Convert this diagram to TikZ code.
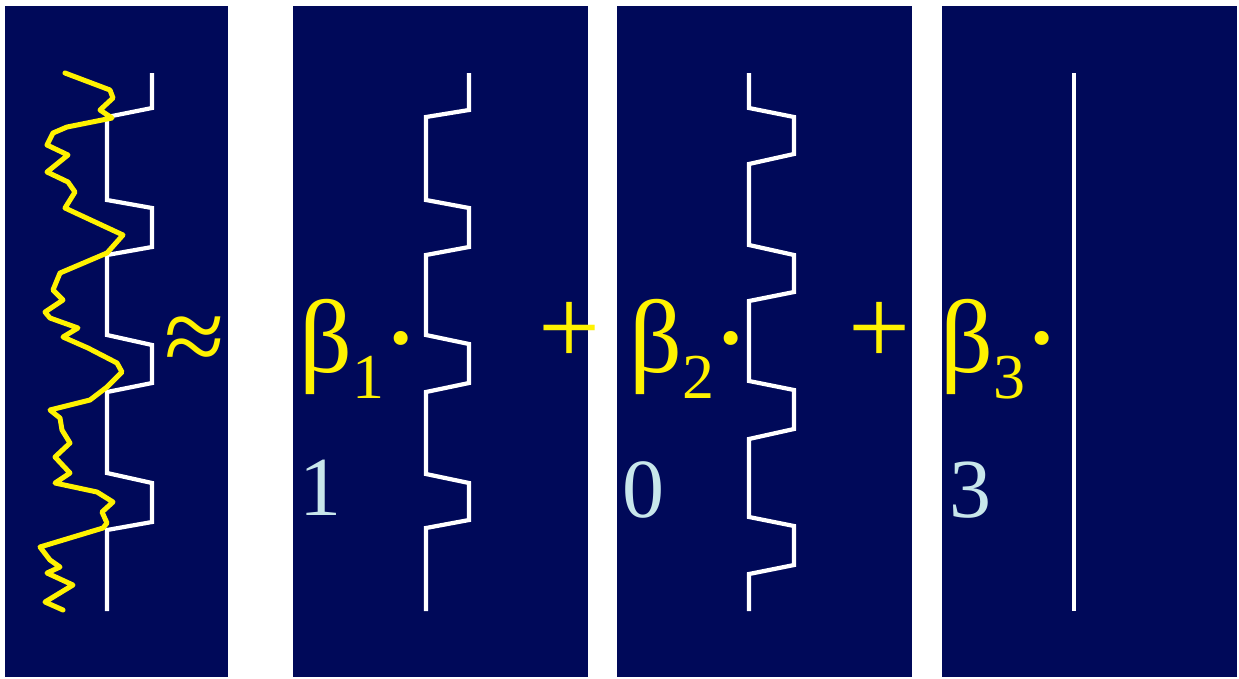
\documentclass[tikz,border=0pt]{standalone}
\usepackage{fontspec}
\setmainfont{Liberation Serif}
\definecolor{navy}{RGB}{0,9,89}
\definecolor{coefblue}{RGB}{200,230,235}
\tikzset{
  panel/.style={fill=navy, draw=none},
  wave/.style={white, line width=4.2pt, line join=miter},
  signal/.style={yellow, line width=5pt, line join=round, line cap=round},
  betalabel/.style={yellow, inner sep=0pt, anchor=base west, font=\fontsize{104}{104}\selectfont},
  coef/.style={coefblue, inner sep=0pt, anchor=base west, font=\fontsize{84}{84}\selectfont},
  opsign/.style={yellow, inner sep=0pt, anchor=base, font=\fontsize{110}{110}\selectfont}
}
\newcommand{\betasub}[1]{β\raisebox{-26pt}{\fontsize{64}{64}\selectfont #1}\hspace{-3pt}{\fontsize{118}{118}\selectfont\raisebox{-5pt}{·}}}
\begin{document}
\begin{tikzpicture}[x=1pt,y=-1pt]
\useasboundingbox (0,0) rectangle (1239,678);
% panels
\fill[panel] (5,6) rectangle (228,677);
\fill[panel] (293,6) rectangle (588,677);
\fill[panel] (617,6) rectangle (912,677);
\fill[panel] (942,6) rectangle (1237,677);
% measured signal and its fit
\draw[wave] (152,73) -- (152,108) -- (107,117) -- (107,200) -- (152,208) -- (152,247)
  -- (107,255) -- (107,335) -- (152,345) -- (152,383) -- (107,392) -- (107,473)
  -- (152,483) -- (152,522) -- (107,530) -- (107,611);
\draw[signal] (65,73) -- (110,90) -- (113,98) -- (100,110) -- (112,118) -- (67,127)
  -- (53,133) -- (47,145) -- (68,155) -- (47,172) -- (68,182) -- (75,192) -- (65,208)
  -- (123,235) -- (107,253) -- (60,273) -- (53,290) -- (63,300) -- (45,312) -- (50,318)
  -- (78,328) -- (63,337) -- (88,348) -- (117,363) -- (122,372) -- (107,387) -- (90,400)
  -- (50,410) -- (60,418) -- (62,430) -- (70,443) -- (55,457) -- (70,473) -- (55,483)
  -- (97,492) -- (113,502) -- (102,512) -- (107,523) -- (103,528) -- (40,547) -- (50,560)
  -- (60,567) -- (47,573) -- (73,585) -- (45,602) -- (63,610);
\node[opsign, anchor=center] (approx) at (195,345) {≈};
% regressor 1
\draw[wave] (469,73) -- (469,110) -- (426,117) -- (426,200) -- (469,208) -- (469,247)
  -- (426,255) -- (426,335) -- (469,344) -- (469,383) -- (426,392) -- (426,474)
  -- (469,483) -- (469,520) -- (426,528) -- (426,611);
\node[betalabel] (beta1) at (299,372) {\betasub{1}};
\node[coef] (coef1) at (299,515) {1};
\node[opsign] (plus1) at (570,364) {+};
% regressor 2
\draw[wave] (749,73) -- (749,108) -- (794,117) -- (794,154) -- (749,164) -- (749,245)
  -- (794,255) -- (794,292) -- (749,301) -- (749,381) -- (794,390) -- (794,429)
  -- (749,439) -- (749,517) -- (794,526) -- (794,565) -- (749,574) -- (749,611);
\node[betalabel] (beta2) at (629,372) {\betasub{2}};
\node[coef] (coef2) at (622,517) {0};
\node[opsign] (plus2) at (880,364) {+};
% regressor 3 (constant)
\draw[wave] (1074,73) -- (1074,611);
\node[betalabel] (beta3) at (940,372) {\betasub{3}};
\node[coef] (coef3) at (949,517) {3};
\end{tikzpicture}
\end{document}
